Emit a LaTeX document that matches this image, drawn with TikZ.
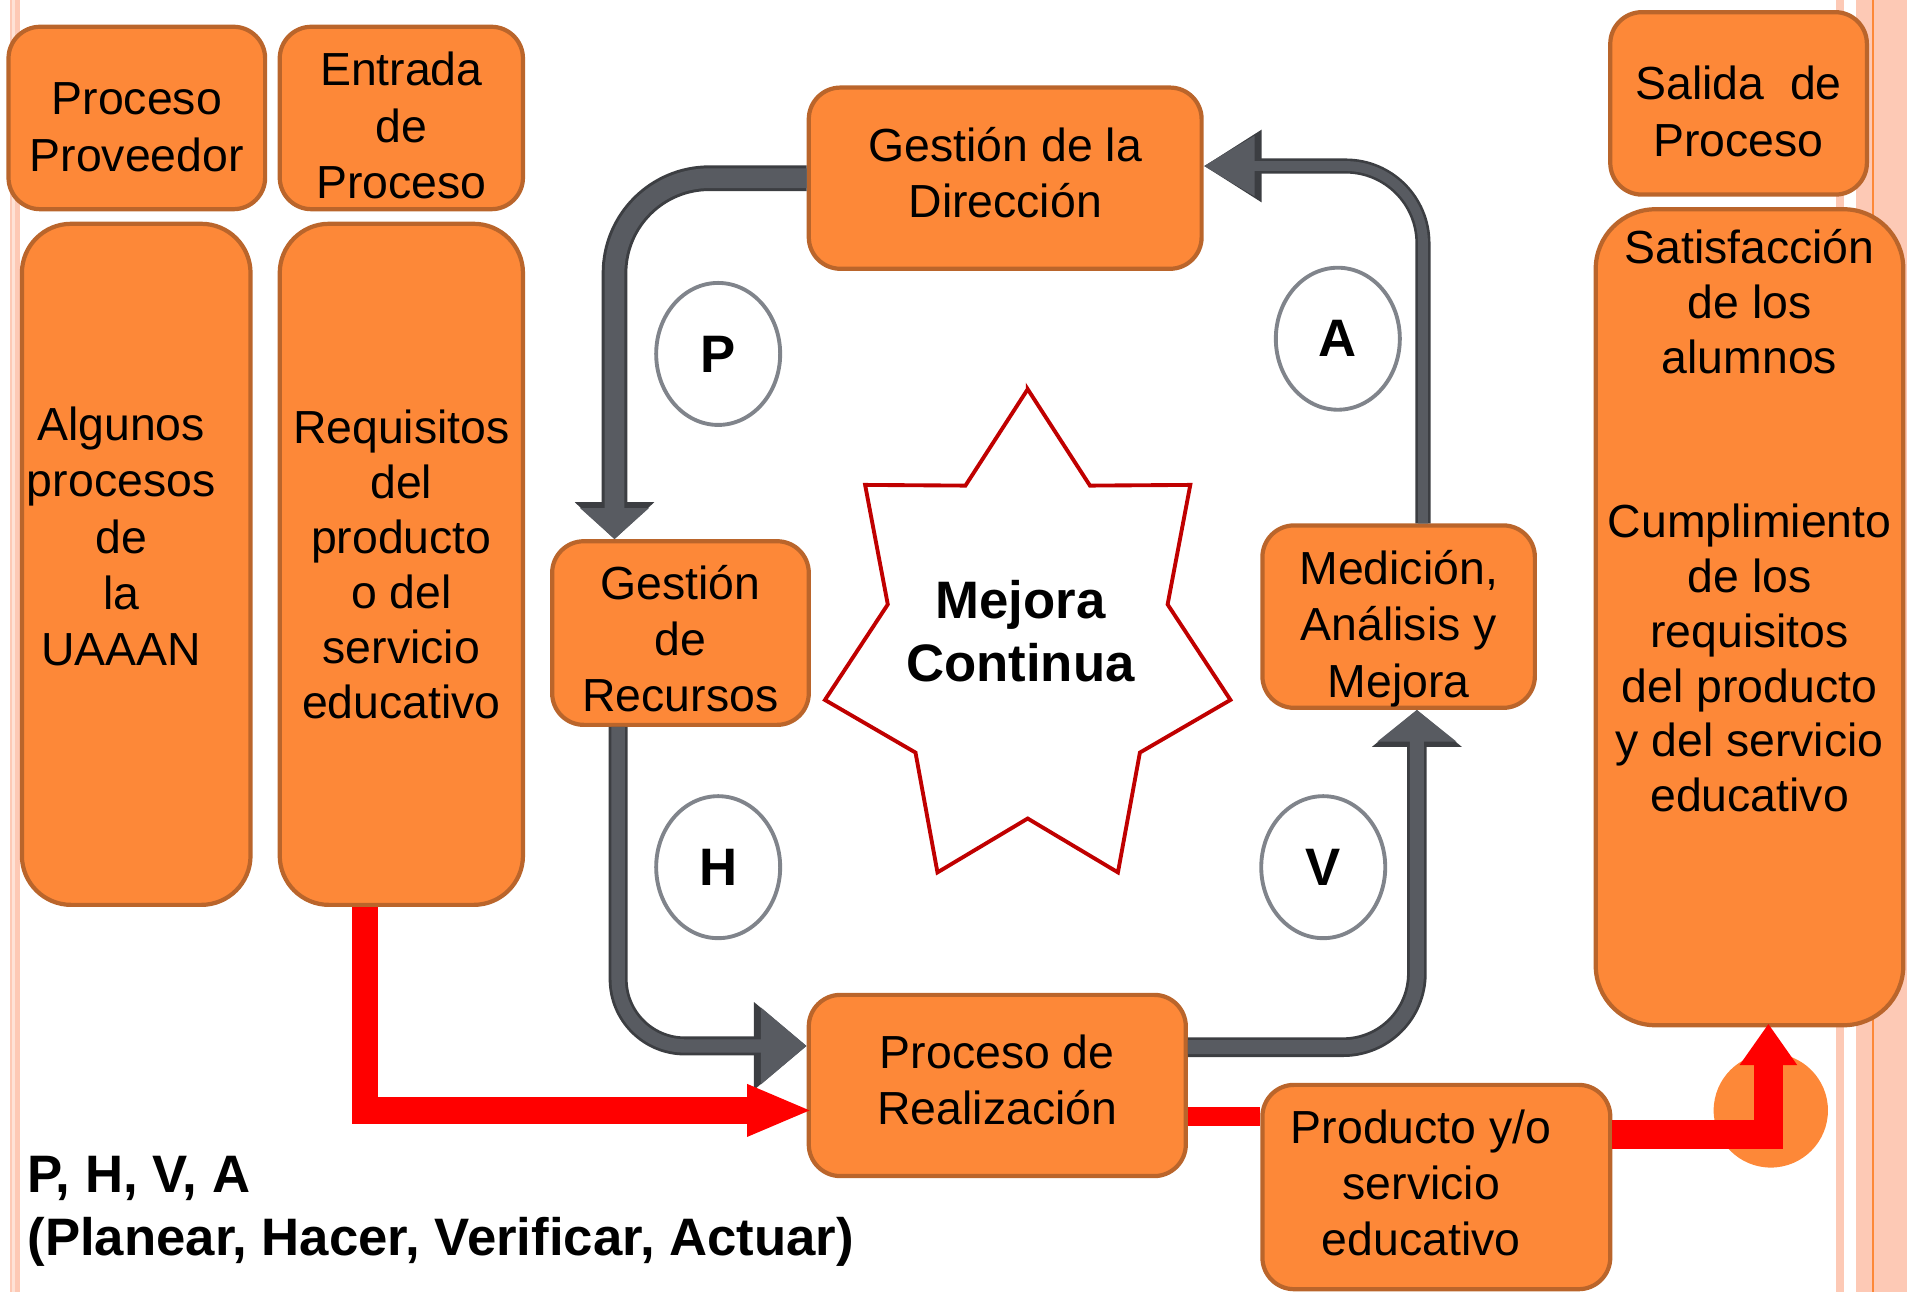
\documentclass[tikz,border=0pt]{standalone}
\usepackage{fontspec}
\setmainfont{Liberation Sans}
\usepackage{tikz}
\usetikzlibrary{arrows.meta,calc,shapes.geometric}

\definecolor{naranja}{HTML}{FD8838}
\definecolor{borde}{HTML}{BA652B}
\definecolor{gris}{HTML}{585B61}
\definecolor{grisosc}{HTML}{3C3E42}
\definecolor{grisclaro}{HTML}{80848B}
\definecolor{rojo}{HTML}{FF0000}
\definecolor{vino}{HTML}{C00000}
\definecolor{rosa}{HTML}{FDC9B5}
\definecolor{rosaclaro}{HTML}{FEE2D6}

\begin{document}
\begin{tikzpicture}[x=0.01216cm,y=-0.01216cm,
  caja/.style={rectangle,rounded corners=9pt,draw=borde,fill=naranja,line width=1.2pt,
    align=center,inner sep=0pt,font=\fontsize{13.2}{16}\selectfont},
  letra/.style={ellipse,draw=grisclaro,line width=1.1pt,fill=white,inner sep=0pt,
    minimum width=1.24cm,minimum height=1.42cm,font=\bfseries\fontsize{15}{18}\selectfont},
  negrita/.style={font=\bfseries\fontsize{15}{18}\selectfont},
  estrella/.style={draw=vino,line width=1.1pt,fill=white,line join=miter},
  flecharoja/.style={draw=rojo,line width=#1}]
      \useasboundingbox (0,0) rectangle (1568,1062);
      % Franjas del margen
      \fill[rosa] (8,0) rectangle (16.5,1062);
      \fill[rosaclaro] (9.9,0) rectangle (12.3,1062);
      \fill[rosa] (1510,0) rectangle (1516.4,1062);
      \fill[rosa] (1526.3,0) rectangle (1568,1062);
      \draw[naranja,line width=0.3pt] (1540,0) -- (1540,1062);
      % Cajas de entrada
      \node[caja,minimum width=2.566cm,minimum height=1.824cm] (prov) at (112.5,97) {\mbox{}\\[-1.7pt]Proceso\\Proveedor};
      \node[caja,minimum width=2.432cm,minimum height=1.824cm] (ent) at (330,97) {\mbox{}\\[-2.2pt]Entrada\\de\\Proceso};
      \node[caja,rounded corners=14pt,minimum width=2.286cm,minimum height=6.81cm] (alg) at (112,464)
        {Algunos\rule{8.6pt}{0pt}\\procesos\rule{8.6pt}{0pt}\\de\rule{8.6pt}{0pt}\\la\rule{8.6pt}{0pt}\\UAAAN\rule{8.6pt}{0pt}\\\mbox{}};
      \node[caja,rounded corners=14pt,minimum width=2.432cm,minimum height=6.81cm,font=\fontsize{13.2}{15.6}\selectfont] (req) at (330,464) {Requisitos\\del\\producto\\o del\\servicio\\educativo};
      % Ciclo
      \node[caja,minimum width=3.928cm,minimum height=1.812cm] (dir) at (826.5,146.5) {Gesti\'on de la\\Direcci\'on\\[-12.6pt]\mbox{}};
      \node[caja,minimum width=2.566cm,minimum height=1.836cm] (rec) at (559.5,520.5) {\mbox{}\\[-3pt]Gesti\'on\\de\\Recursos};
      \node[caja,minimum width=2.724cm,minimum height=1.824cm] (med) at (1150,507) {\mbox{}\\[0.5pt]Medici\'on,\\An\'alisis y\\Mejora};
      \node[caja,minimum width=3.77cm,minimum height=1.812cm] (rea) at (820,892.5) {Proceso de\\Realizaci\'on\\[-12.6pt]\mbox{}};
      \node[caja,minimum width=3.478cm,minimum height=2.043cm] (prod) at (1181,976)
        {Producto y/o\rule{8.6pt}{0pt}\\servicio\rule{8.6pt}{0pt}\\educativo\rule{8.6pt}{0pt}\\[-13.6pt]\mbox{}};
      % Cajas de salida
      \node[caja,minimum width=2.566cm,minimum height=1.824cm] (sal) at (1429.5,85) {\mbox{}\\[-1.9pt]Salida\ \ de\\Proceso};
      \node[caja,rounded corners=17pt,minimum width=3.076cm,minimum height=8.159cm,font=\fontsize{13.2}{15.6}\selectfont] (sat) at (1438.5,507.5)
        {Satisfacci\'on\\de los\\alumnos\\[31.2pt]Cumplimiento\\de los\\requisitos\\del producto\\y del servicio\\educativo\\[39.4pt]\mbox{}};
      % Estrella
      \draw[estrella,shift={(845,529)}] (270:171 and 209)
        \foreach \k in {0,...,6} {-- ({295.714+\k*51.4286}:118 and 144) -- ({321.4286+\k*51.4286}:171 and 209)} -- cycle;
      \node[negrita,align=center] (mejora) at (839,519) {Mejora\\Continua};
      % Letras P H V A
      \node[letra] (p) at (590.5,291) {P};
      \node[letra] (a) at (1100,278.5) {A};
      \node[letra] (h) at (590.5,713) {H};
      \node[letra] (v) at (1088,713) {V};
      % Flechas grises
      \draw[grisosc,line width=7.3pt,rounded corners=27pt,-{Triangle[length=10.5pt,width=22pt]}] (dir.west) -| ($(rec.north west)+(53,0)$);
      \draw[gris,line width=5.6pt,rounded corners=27pt,-{Triangle[length=8.8pt,width=19pt]}] (dir.west) -| ($(rec.north west)+(53,0)$);
      \draw[grisosc,line width=4.3pt,rounded corners=22pt,-{Triangle[length=16.5pt,width=19.5pt]}] ($(med.north)+(20,0)$) |- ($(dir.east)+(0,-10)$);
      \draw[gris,line width=2.8pt,rounded corners=22pt,-{Triangle[length=14.5pt,width=16.5pt]}] ($(med.north)+(20,0)$) |- ($(dir.east)+(0,-10)$);
      \draw[grisosc,line width=5.4pt,rounded corners=19pt,-{Triangle[length=15pt,width=24pt]}] ($(rec.south west)+(56,0)$) |- ($(rea.west)+(0,-32.5)$);
      \draw[gris,line width=3.8pt,rounded corners=19pt,-{Triangle[length=13pt,width=21pt]}] ($(rec.south west)+(56,0)$) |- ($(rea.west)+(0,-32.5)$);
      \draw[grisosc,line width=5.6pt,rounded corners=21pt,-{Triangle[length=10.5pt,width=25pt]}] ($(rea.east)+(0,-31.5)$) -| ($(med.south)+(15,0)$);
      \draw[gris,line width=4pt,rounded corners=21pt,-{Triangle[length=9pt,width=22pt]}] ($(rea.east)+(0,-31.5)$) -| ($(med.south)+(15,0)$);
      % Flechas rojas
      \node[circle,fill=naranja,minimum size=1.143cm,inner sep=0pt] (bola) at (1456,913) {};
      \draw[flecharoja=7.6pt,-{Triangle[length=18.7pt,width=13.5pt]}] ($(req.south)+(-30,0)$) |- ($(rea.west)+(5,20.5)$);
      \draw[flecharoja=5.5pt] ($(rea.east)+(0,25.5)$) coordinate (r2) -- (r2 -| prod.west);
      \draw[flecharoja=8.3pt,-{Triangle[length=11.8pt,width=15.6pt]}] ($(prod.east)+(0,-43.5)$) -| ($(sat.south)+(15.5,-3)$);
      % Nota
      \node[negrita,anchor=west,align=left,inner sep=0pt] (phva) at (22,996) {P, H, V, A\\(Planear, Hacer, Verificar, Actuar)};
\end{tikzpicture}
\end{document}
